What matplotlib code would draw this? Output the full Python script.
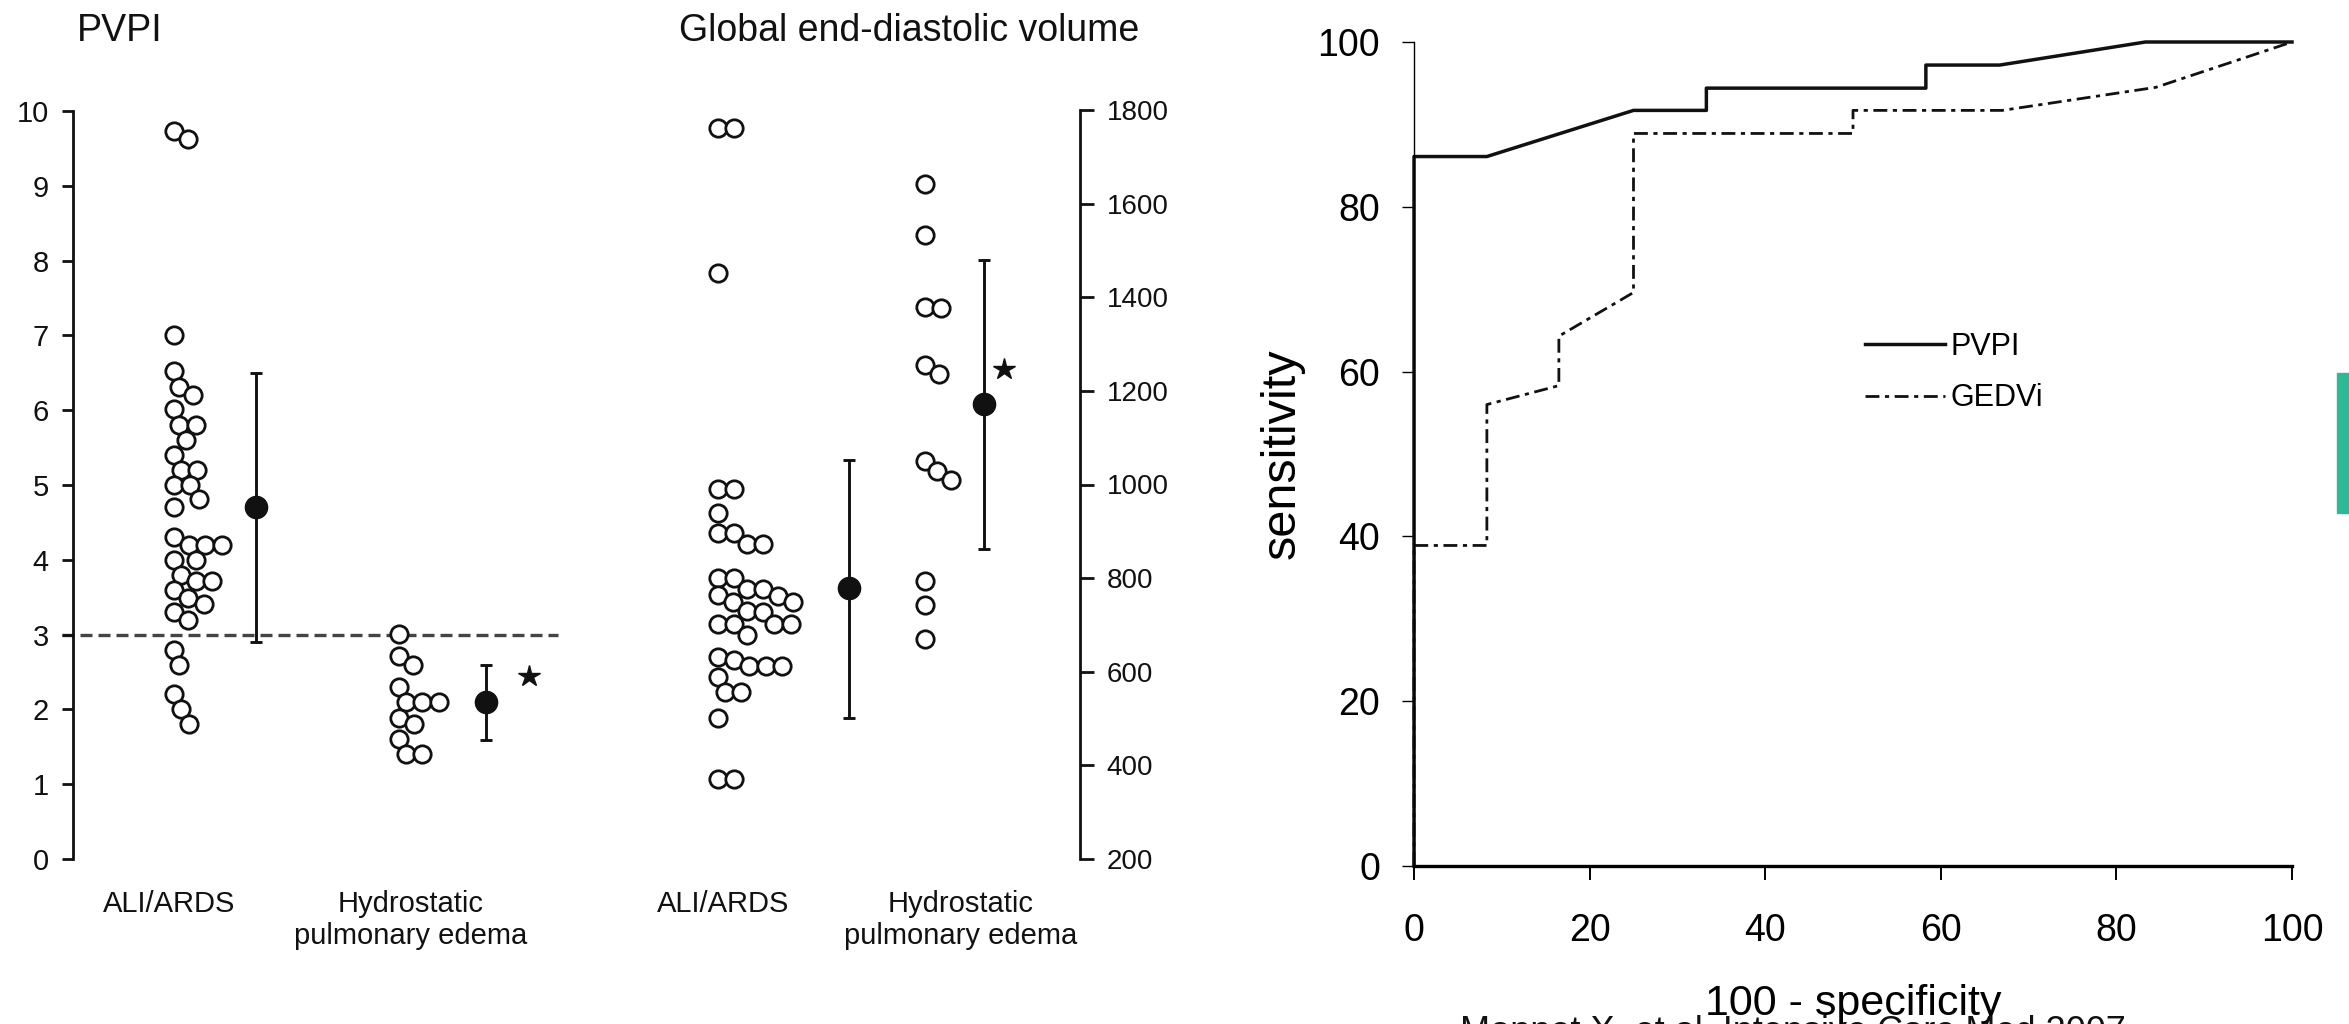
import numpy as np
import matplotlib
matplotlib.use("Agg")
import matplotlib.pyplot as plt

plt.rcParams['font.family'] = ['Liberation Sans', 'DejaVu Sans']

# ---- data ----
groups = ['ALI/ARDS', 'Hydrostatic\npulmonary edema']

pvpi_ali = [9.73, 9.62, 7.0, 6.52, 6.31, 6.2, 6.01, 5.8, 5.8, 5.6, 5.4, 5.2, 5.2,
            5.0, 5.0, 4.81, 4.7, 4.3, 4.2, 4.2, 4.2, 4.0, 4.0, 3.8, 3.71, 3.71,
            3.6, 3.49, 3.41, 3.3, 3.19, 2.8, 2.59, 2.2, 2.0, 1.81]
pvpi_hyd = [3.01, 2.71, 2.59, 2.3, 2.1, 2.1, 2.1, 1.89, 1.81, 1.6, 1.4, 1.4]
pvpi_mean = [4.70, 2.10]
pvpi_lo = [2.90, 1.59]
pvpi_hi = [6.50, 2.60]
pvpi_cutoff = 3.0

gedv_ali = [1762, 1762, 1451, 990, 990, 939, 896, 896, 872, 872, 801, 801,
            777, 777, 763, 762, 749, 749, 730, 728, 701, 701, 701, 701, 679,
            632, 626, 612, 612, 612, 589, 557, 557, 501, 371, 371]
gedv_hyd = [1642, 1534, 1380, 1376, 1255, 1236, 1051, 1028, 1009, 793, 742, 669]
gedv_mean = [778, 1173]
gedv_lo = [501, 862]
gedv_hi = [1053, 1479]

roc_pvpi_x = [0, 0, 8.3, 25, 33.3, 33.3, 58.3, 58.3, 66.7, 83.3, 100]
roc_pvpi_y = [0, 86.1, 86.1, 91.7, 91.7, 94.4, 94.4, 97.2, 97.2, 100, 100]
roc_gedv_x = [0, 0, 8.3, 8.3, 16.5, 16.5, 25, 25, 50, 50, 67, 84.5, 100]
roc_gedv_y = [0, 38.9, 38.9, 56.0, 58.3, 64.3, 69.6, 88.9, 88.9, 91.7, 91.7, 94.5, 100]

W, H = 2349, 1024
fig = plt.figure(figsize=(W / 100, H / 100), dpi=100)
ink = '#111111'


def px_box(x0, y0, x1, y1):
    # pixel box (top-left origin) -> figure fraction rect
    return [x0 / W, 1 - y1 / H, (x1 - x0) / W, (y1 - y0) / H]


def swarm(vals_px, d):
    """one-sided beeswarm: smallest x offset >= 0 without overlap"""
    placed = []
    out = []
    for y in vals_px:
        cands = [0.0]
        for px, py in placed:
            dy = abs(y - py)
            if dy < d:
                cands.append(px + np.sqrt(d * d - dy * dy))
        for c in sorted(cands):
            if all((c - px) ** 2 + (y - py) ** 2 >= d * d - 1e-6 for px, py in placed):
                break
        placed.append((c, y))
        out.append(c)
    return np.array(out)


def dot_panel(ax, data, means, lo, hi, xlim, ylim, mean_dx, label_x, star):
    ax.set_xlim(xlim)
    ax.set_ylim(ylim)
    bb = ax.get_position()
    ppx = bb.width * W / (xlim[1] - xlim[0])
    ppy = bb.height * H / (ylim[1] - ylim[0])
    for i, vals in enumerate(data):
        offs = swarm(np.array(vals) * ppy, 16.5)
        ax.plot(i + 1 + offs / ppx, vals, 'o', mfc='white', mec=ink,
                ms=12.5, mew=2.0, clip_on=False, zorder=3)
        m = means[i]
        ax.errorbar(i + 1 + mean_dx[i], m, yerr=[[m - lo[i]], [hi[i] - m]],
                    fmt='o', color=ink, ms=16, lw=2.1, capsize=4,
                    capthick=2.1, zorder=4, clip_on=False)
    ax.plot(2 + star[0], star[1], marker='*', color=ink, ms=16,
            clip_on=False)
    ax.set_xticks([1 + label_x[0], 2 + label_x[1]])
    ax.set_xticklabels(groups, fontsize=21, color=ink)
    ax.tick_params(axis='x', length=0, pad=22)
    for s in ['top', 'bottom']:
        ax.spines[s].set_visible(False)


# ---- PVPI ----
ax1 = fig.add_axes(px_box(72.5, 111, 558, 859))
dot_panel(ax1, [pvpi_ali, pvpi_hyd], pvpi_mean, pvpi_lo, pvpi_hi,
          (0.549, 2.707), (0, 10), [0.365, 0.387], [-0.02, 0.05], (0.58, 2.44))
ax1.axhline(pvpi_cutoff, xmin=-0.022, xmax=1, color='#444444', lw=2.4,
            dashes=(3.6, 1.8), clip_on=False, zorder=1)
ax1.spines['right'].set_visible(False)
ax1.spines['left'].set_linewidth(2.0)
ax1.spines['left'].set_color(ink)
ax1.set_yticks(range(0, 11))
ax1.tick_params(axis='y', length=8, width=2.0, pad=9, labelsize=21,
                labelcolor=ink, color=ink)
fig.text(77 / W, 1 - 31 / H, 'PVPI', fontsize=27, va='center', ha='left',
         color=ink)

# ---- GEDV ----
ax2 = fig.add_axes(px_box(600, 110, 1080, 859))
dot_panel(ax2, [gedv_ali, gedv_hyd], gedv_mean, gedv_lo, gedv_hi,
          (0.43, 2.749), (200, 1800), [0.633, 0.285], [0.024, 0.174], (0.382, 1246))
ax2.spines['left'].set_visible(False)
ax2.spines['right'].set_linewidth(2.0)
ax2.spines['right'].set_color(ink)
ax2.yaxis.tick_right()
ax2.set_yticks(range(200, 1801, 200))
ax2.tick_params(axis='y', length=10, width=2.0, pad=9, labelsize=20,
                labelcolor=ink, color=ink)
fig.text(909 / W, 1 - 31 / H, 'Global end-diastolic volume', fontsize=27,
         va='center', ha='center', color=ink)

# ---- ROC ----
ax3 = fig.add_axes(px_box(1414, 42, 2292, 866))
ax3.plot(roc_pvpi_x, roc_pvpi_y, color=ink, lw=2.5, clip_on=False,
         label='PVPI')
ax3.plot(roc_gedv_x, roc_gedv_y, color=ink, lw=2.0, clip_on=False,
         linestyle=(0, (5, 2, 1.5, 2)), label='GEDVi')
ax3.set_xlim(0, 100)
ax3.set_ylim(0, 100)
ax3.set_xticks(range(0, 101, 20))
ax3.set_yticks(range(0, 101, 20))
for s in ['top', 'right']:
    ax3.spines[s].set_visible(False)
ax3.spines['left'].set_linewidth(1.0)
ax3.spines['bottom'].set_linewidth(2.4)
ax3.tick_params(axis='x', length=10, width=1.4, pad=24, labelsize=27)
ax3.tick_params(axis='y', length=8.5, width=1.0, pad=16, labelsize=27)
ax3.set_ylabel('sensitivity', fontsize=35)
ax3.yaxis.set_label_coords(-0.124, 0.5)
ax3.set_xlabel('100 - specificity', fontsize=31)
ax3.xaxis.label.set_va('baseline')
ax3.xaxis.set_label_coords(0.5, (866 - 1015) / 824)
ax3.legend(loc='upper left', bbox_to_anchor=(0.514, 0.648), frameon=False,
           fontsize=22, handlelength=2.6, handletextpad=0.2, borderpad=0,
           borderaxespad=0, labelspacing=0.7)

fig.text(1460 / W, 1 - 1042 / H, 'Monnet X, et al. Intensive Care Med 2007',
         fontsize=26, ha='left', va='baseline', color=ink)

fig.patches.append(plt.Rectangle((2337 / W, 1 - 513 / H), 12 / W, 140 / H,
                                 transform=fig.transFigure, color='#2db896'))

fig.savefig('out.png', dpi=100)
